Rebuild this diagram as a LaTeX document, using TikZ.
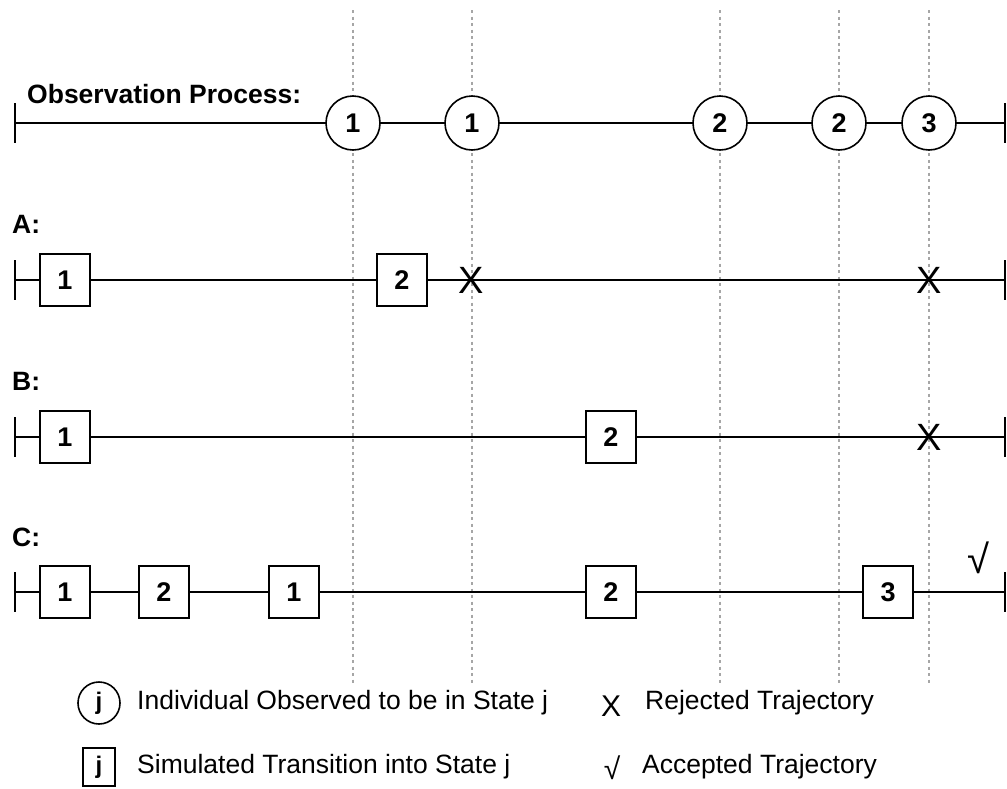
\documentclass[tikz,border=0pt]{standalone}
\usepackage{fontspec}
\setmainfont{Liberation Sans}
\usetikzlibrary{positioning}

\begin{document}
\begin{tikzpicture}[x=1pt, y=-1pt,
    obs/.style={draw, circle, line width=1.6pt, fill=white, minimum size=54pt, inner sep=0pt, font=\fontsize{27}{30}\selectfont\bfseries},
    sim/.style={draw, line width=1.6pt, fill=white, minimum width=50pt, minimum height=52pt, inner sep=0pt, font=\fontsize{27}{30}\selectfont\bfseries},
    track/.style={line width=1.6pt},
    guide/.style={gray!70, line width=1.3pt, dash pattern=on 3pt off 3.5pt},
    rowlabel/.style={anchor=base west, inner sep=0pt, font=\fontsize{26.5}{30}\selectfont\bfseries},
    reject/.style={inner sep=0pt, font=\fontsize{38}{40}\selectfont},
    accept/.style={inner sep=0pt, font=\fontsize{40}{44}\selectfont},
    keytext/.style={anchor=west, inner sep=0pt, font=\fontsize{26.5}{30}\selectfont}
]
    \useasboundingbox (0,0) rectangle (1007,788);

    % Observation times
    \foreach \t [count=\i] in {353, 472, 720, 839, 929} {
        \coordinate (gt\i) at (\t,10);
        \coordinate (gb\i) at (\t,684);
        \draw[guide] (gt\i) -- (gb\i);
    }

    % Time lines
    \foreach \r/\y in {obs/123, A/280, B/437, C/592} {
        \coordinate (\r L) at (15,\y);
        \coordinate (\r R) at (1005,\y);
        \draw[track] (\r L) -- (\r R);
        \draw[track] ([yshift=20pt]\r L) -- ([yshift=-20pt]\r L);
        \draw[track] ([yshift=20pt]\r R) -- ([yshift=-20pt]\r R);
    }

    % Observation process
    \node[rowlabel] (labObs) at (27,103) {Observation Process:};
    \foreach \t/\s [count=\i] in {353/1, 472/1, 720/2, 839/2, 929/3}
        \node[obs] (o\i) at (\t,123) {\s};

    % Trajectory A
    \node[rowlabel] (labA) at (12,233) {A:};
    \node[sim] (a1) at (65,280) {1};
    \node[sim] (a2) at (402,280) {2};
    \node[reject] (xa1) at (471,280) {X};
    \node[reject] (xa2) at (929,280) {X};

    % Trajectory B
    \node[rowlabel] (labB) at (12,390) {B:};
    \node[sim] (b1) at (65,437) {1};
    \node[sim] (b2) at (611,437) {2};
    \node[reject] (xb1) at (929,437) {X};

    % Trajectory C
    \node[rowlabel] (labC) at (12,546) {C:};
    \node[sim] (c1) at (65,592) {1};
    \node[sim] (c2) at (164,592) {2};
    \node[sim] (c3) at (294,592) {1};
    \node[sim] (c4) at (611,592) {2};
    \node[sim] (c5) at (888,592) {3};
    \node[accept] (ok) at (978,558) {√};

    % Legend
    \node[obs, minimum size=42pt, font=\fontsize{24}{28}\selectfont\bfseries] (keyObs) at (99,703) {j};
    \node[keytext] (keyObsText) at (137,703) {Individual Observed to be in State j};
    \node[sim, minimum width=32pt, minimum height=38pt, font=\fontsize{24}{28}\selectfont\bfseries] (keySim) at (99,767) {j};
    \node[keytext] (keySimText) at (137,767) {Simulated Transition into State j};
    \node[reject, font=\fontsize{30}{32}\selectfont] (keyRej) at (611,706) {X};
    \node[keytext] (keyRejText) at (645,703) {Rejected Trajectory};
    \node[accept, font=\fontsize{30}{32}\selectfont] (keyAcc) at (612,768) {√};
    \node[keytext] (keyAccText) at (642,767) {Accepted Trajectory};
\end{tikzpicture}
\end{document}
